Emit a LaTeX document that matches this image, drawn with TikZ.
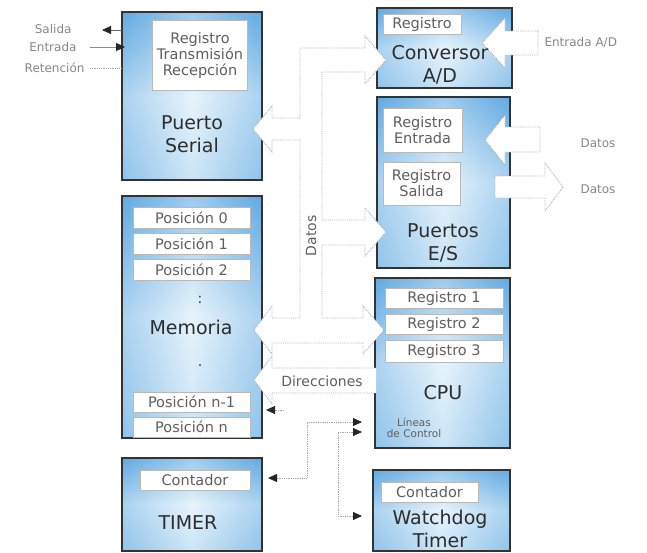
\documentclass[tikz,border=0pt]{standalone}
\usepackage{fontspec}
\setmainfont{DejaVu Sans}
\usetikzlibrary{arrows.meta,fit}
\definecolor{bdark}{RGB}{98,170,226}
\definecolor{blight}{RGB}{232,244,252}
\definecolor{bmid}{RGB}{182,217,242}
\definecolor{bigtxt}{RGB}{45,45,45}
\definecolor{regtxt}{RGB}{95,95,95}
\definecolor{sidetxt}{RGB}{135,135,135}
\newcommand\mkblock[5]{%
  \path[top color=bdark, bottom color=bmid, middle color=blight] (#2,#3) rectangle (#4,#5);
  \path[left color=bdark, right color=bdark, middle color=blight, opacity=0.45] (#2,#3) rectangle (#4,#5);
  \node[draw=black!80, line width=1.4pt, inner sep=0pt, fit={(#2,#3) (#4,#5)}] (#1) {};
}
\begin{document}
\begin{tikzpicture}[x=1pt,y=-1pt,
  reg/.style={draw=gray!55, line width=0.8pt, fill=white, text=regtxt, inner sep=0pt,
    align=center, font=\fontsize{14.5}{16}\selectfont},
  bigl/.style={text=bigtxt, align=center, font=\fontsize{19}{23}\selectfont},
  sidel/.style={text=sidetxt, font=\fontsize{12}{14}\selectfont},
  barrow/.style={draw=gray!60, densely dotted, line width=0.9pt},
  ctl/.style={draw=gray!70, densely dotted, line width=0.8pt},
  tip/.style={-{Triangle[length=9pt,width=8pt,color=black!85]}},
  tips/.style={{Triangle[length=9pt,width=8pt,color=black!85]}-{Triangle[length=9pt,width=8pt,color=black!85]}}
]
\useasboundingbox (0,0) rectangle (647,552);
\fill[white] (0,0) rectangle (647,552);

% ---------- blocks ----------
\mkblock{ps}{122}{12}{262}{180}
\mkblock{ad}{377}{8}{512}{88}
\mkblock{es}{377}{97}{510}{268}
\mkblock{mem}{122}{196}{262}{438}
\mkblock{cpu}{375}{278}{510}{448}
\mkblock{tim}{122}{458}{262}{551}
\mkblock{wd}{373}{470}{510}{551}

% ---------- bus (data) ----------
\fill[white] (300,48) -- (365,48) -- (365,36) -- (386,60) -- (365,84) -- (365,72) -- (322,72)
  -- (322,220) -- (365,220) -- (365,208) -- (386,232) -- (365,256) -- (365,245) -- (322,245)
  -- (322,318) -- (363,318) -- (363,306) -- (384,330) -- (363,354) -- (363,343) -- (272,343)
  -- (272,354) -- (254,330) -- (272,306) -- (272,318) -- (300,318) -- cycle;
\draw[barrow] (300,118) -- (300,48) -- (365,48) -- (365,36) -- (386,60) -- (365,84) -- (365,72) -- (322,72)
  -- (322,220) -- (365,220) -- (365,208) -- (386,232) -- (365,256) -- (365,245) -- (322,245)
  -- (322,318) -- (363,318) -- (363,306) -- (384,330) -- (363,354) -- (363,343) -- (272,343)
  -- (272,354) -- (254,330) -- (272,306) -- (272,318) -- (300,318) -- (300,140);
% branch to serial port
\fill[white] (301,118) -- (272,118) -- (272,106) -- (253,129) -- (272,152) -- (272,140) -- (301,140) -- cycle;
\draw[barrow] (300,118) -- (272,118) -- (272,106) -- (253,129) -- (272,152) -- (272,140) -- (300,140);
\node[rotate=90, text=regtxt, font=\fontsize{14}{16}\selectfont] (datosbus) at (311,236) {Datos};

% ---------- address bus ----------
\fill[white] (376,368) -- (272,368) -- (272,356) -- (254,380) -- (272,404) -- (272,393) -- (376,393) -- cycle;
\draw[barrow] (375,368) -- (272,368) -- (272,356) -- (254,380) -- (272,404) -- (272,393) -- (375,393);
\node[text=regtxt, font=\fontsize{14}{16}\selectfont] (dir) at (322,381) {Direcciones};

% ---------- right side arrows ----------
\filldraw[barrow, fill=white] (538,31) -- (505,31) -- (505,18) -- (482,43) -- (505,68) -- (505,55) -- (538,55) -- cycle;
\filldraw[barrow, fill=white] (540,127) -- (505,127) -- (505,115) -- (485,140) -- (505,165) -- (505,152) -- (540,152) -- cycle;
\filldraw[barrow, fill=white] (495,176) -- (545,176) -- (545,163) -- (563,187) -- (545,211) -- (545,198) -- (495,198) -- cycle;
\node[sidel, anchor=west] (eAD) at (541,42) {Entrada A/D};
\node[sidel] (dat1) at (598,143) {Datos};
\node[sidel] (dat2) at (598,189) {Datos};

% ---------- registers ----------
\node[reg, minimum width=95pt, minimum height=70pt] (psreg) at (200,55) {Registro\\Transmisión\\Recepción};
\node[reg, minimum width=78pt, minimum height=20pt] (adreg) at (422,24) {Registro};
\node[reg, minimum width=79pt, minimum height=44pt] (esin) at (422.5,130) {Registro\\Entrada};
\node[reg, minimum width=77pt, minimum height=43pt] (esout) at (421.5,183.5) {Registro\\Salida};
\node[reg, minimum width=117pt, minimum height=21pt] (p0) at (191.5,217.5) {Posición 0};
\node[reg, minimum width=117pt, minimum height=21pt] (p1) at (191.5,243.5) {Posición 1};
\node[reg, minimum width=117pt, minimum height=21pt] (p2) at (191.5,269.5) {Posición 2};
\node[reg, minimum width=117pt, minimum height=20pt] (pn1) at (191.5,402) {Posición n-1};
\node[reg, minimum width=117pt, minimum height=20pt] (pn) at (191.5,427) {Posición n};
\node[reg, minimum width=118pt, minimum height=20pt] (r1) at (444,298) {Registro 1};
\node[reg, minimum width=118pt, minimum height=20pt] (r2) at (444,324) {Registro 2};
\node[reg, minimum width=118pt, minimum height=22pt] (r3) at (444,351) {Registro 3};
\node[reg, minimum width=110pt, minimum height=20pt] (tcnt) at (195,480) {Contador};
\node[reg, minimum width=97pt, minimum height=20pt] (wcnt) at (429.5,492) {Contador};

% ---------- block labels ----------
\node[bigl] (pslab) at (192,134) {Puerto\\Serial};
\node[bigl] (adlab) at (440,65) {Conversor\\A/D};
\node[bigl] (eslab) at (443,243) {Puertos\\E/S};
\node[bigl] (memlab) at (191,327) {Memoria};
\node[text=bigtxt, font=\fontsize{14}{16}\selectfont] (dots1) at (200,300) {:};
\node[text=bigtxt, font=\fontsize{14}{16}\selectfont] (dots2) at (200,366) {.};
\node[bigl] (cpulab) at (443,393) {CPU};
\node[text=regtxt, align=center, font=\fontsize{10.5}{11.5}\selectfont] (lc) at (414,428) {Líneas\\de Control};
\node[bigl] (timlab) at (188,523) {TIMER};
\node[bigl] (wdlab) at (440,529) {Watchdog\\Timer};

% ---------- serial port lines ----------
\node[sidel, anchor=east] (lsal) at (75,29) {Salida};
\node[sidel, anchor=east] (lent) at (80,47) {Entrada};
\node[sidel, anchor=east] (lret) at (88,68) {Retención};
\coordinate (salA) at (122,30); \coordinate (salB) at (102,30);
\coordinate (entA) at (90,47);  \coordinate (entB) at (125,47);
\coordinate (retA) at (90,68);  \coordinate (retB) at (122,68);
\draw[line width=0.9pt, draw=black!60, tip] (salA) -- (salB);
\draw[line width=0.9pt, draw=black!45, tip] (entA) -- (entB);
\draw[ctl] (retA) -- (retB);

% ---------- control lines ----------
\coordinate (memA) at (284,410); \coordinate (memB) at (266,410);
\draw[ctl, tip] (memA) -- (memB);
\coordinate (timT) at (268,478); \coordinate (cpuT1) at (362,422);
\draw[ctl, tips] (timT) -- (307,478) -- (307,422) -- (cpuT1);
\coordinate (cpuT2) at (362,432); \coordinate (wdT) at (362,516);
\draw[ctl, tips] (cpuT2) -- (338,432) -- (338,516) -- (wdT);
\end{tikzpicture}
\end{document}
